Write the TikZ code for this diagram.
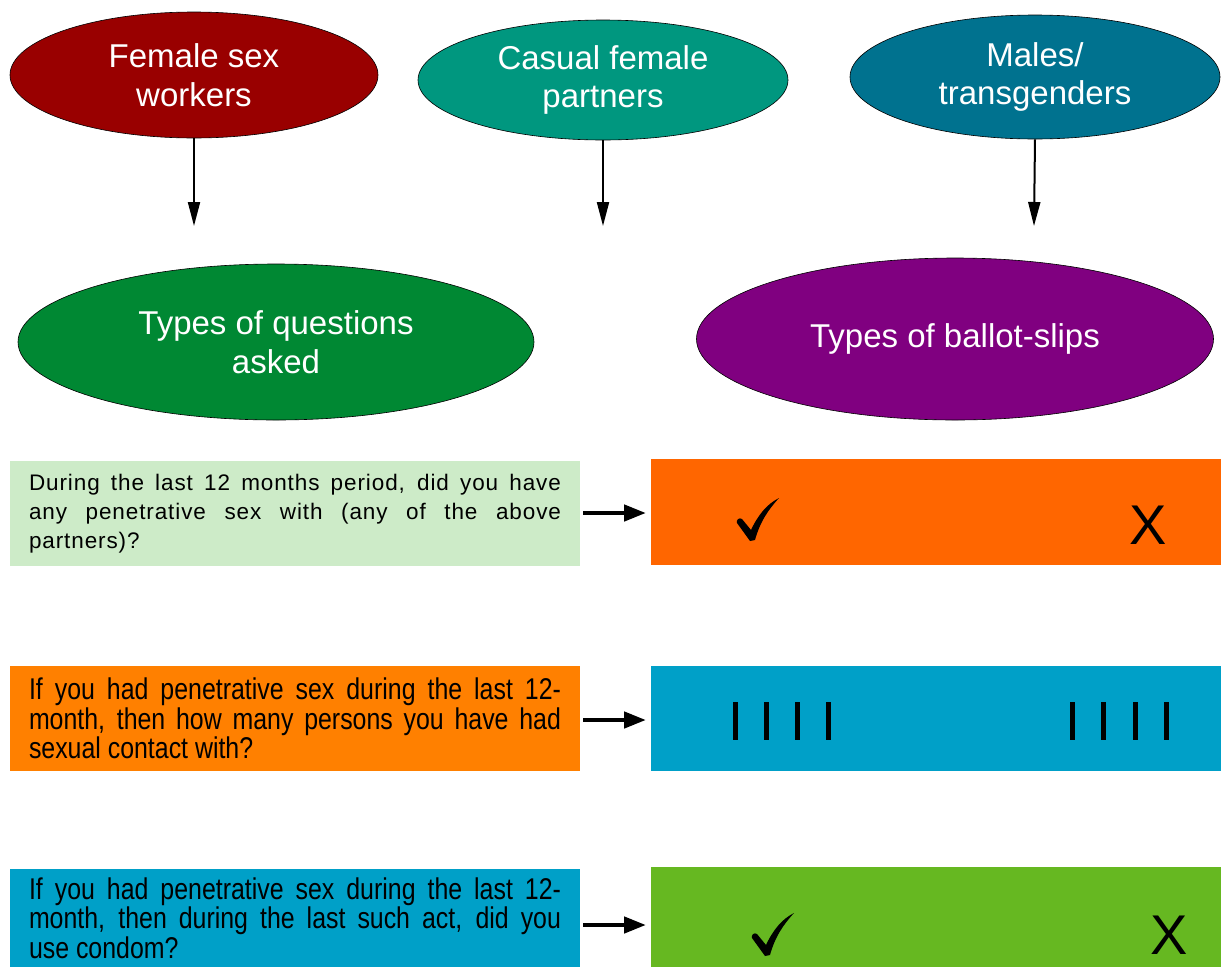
\documentclass[tikz,border=0pt]{standalone}
\usepackage{fontspec}
\setmainfont{Liberation Sans}
\newfontfamily\condfont[FakeStretch=0.83]{Liberation Sans}
\newfontfamily\widefont[LetterSpace=4]{Liberation Sans}
\newcommand\nohyphs{\hyphenpenalty=10000\relax}
\usetikzlibrary{shapes.geometric,arrows.meta}
\definecolor{cRed}{HTML}{990000}
\definecolor{cTeal}{HTML}{00977F}
\definecolor{cPetrol}{HTML}{00728F}
\definecolor{cGreen}{HTML}{008833}
\definecolor{cPurple}{HTML}{800080}
\definecolor{cLightGreen}{HTML}{CDEBC8}
\definecolor{cOrangeA}{HTML}{FF6600}
\definecolor{cOrangeB}{HTML}{FF8000}
\definecolor{cBlue}{HTML}{00A0C8}
\definecolor{cLime}{HTML}{66B821}
\tikzset{
  ell/.style={ellipse, draw=black, line width=0.6pt, inner sep=0pt, text=white,
    font=\fontsize{33}{38.5}\selectfont, align=center},
  qbox/.style={rectangle, inner sep=0pt, minimum width=570pt, minimum height=105pt},
  qtext/.style={text width=532pt, align=justify, font=\condfont\fontsize{30}{29.5}\selectfont\nohyphs, inner sep=0pt},
  qtextwide/.style={text width=532pt, align=justify, font=\widefont\fontsize{22.5}{29}\selectfont\nohyphs, inner sep=0pt},
  bbox/.style={rectangle, inner sep=0pt, minimum width=570pt, minimum height=105pt},
  thinarrow/.style={line width=2pt, -{Triangle[length=24pt,width=12pt]}},
  thickarrow/.style={line width=4.5pt, -{Triangle[length=22pt,width=16pt]}},
  tally/.style={line width=5pt},
  cross/.style={font=\fontsize{56}{56}\selectfont, inner sep=0pt},
  tickmark/.pic={
    \fill (-2,1) -- (-15,-17) .. controls (-16,-20) and (-13,-23) .. (-10,-21)
      -- (-1,-10) .. controls (6,-25) and (15,-36) .. (27,-42)
      .. controls (16,-30) and (8,-18) .. (3,0) -- cycle;
  }
}
\begin{document}
\begin{tikzpicture}[x=1pt,y=-1pt]
\useasboundingbox (0,0) rectangle (1227,967);
% top ellipses
\node[ell, fill=cRed, minimum width=368pt, minimum height=126pt] (fsw) at (194,75) {Female sex\\workers};
\node[ell, fill=cTeal, minimum width=370pt, minimum height=120pt] (cfp) at (603,80) {Casual female\\partners};
\node[ell, fill=cPetrol, minimum width=370pt, minimum height=124pt] (mt) at (1035,77) {Males/\\transgenders};
\coordinate (e1) at (194,226);
\coordinate (e2) at (603,226);
\coordinate (e3) at (1034,226);
\draw[thinarrow] (fsw.south) -- (e1);
\draw[thinarrow] (cfp.south) -- (e2);
\draw[thinarrow] (mt.south) -- (e3);
% middle ellipses
\node[ell, fill=cGreen, minimum width=516pt, minimum height=156pt] (tq) at (276,342) {Types of questions\\asked};
\node[ell, fill=cPurple, minimum width=517pt, minimum height=162pt] (tb) at (955,339) {Types of ballot-slips};
% question boxes
\node[qbox, fill=cLightGreen] (q1) at (295,513.5) {};
\node[qtextwide] (q1t) at (q1.center) {During the last 12 months period, did you have\linebreak any penetrative sex with (any of the above\linebreak partners)?};
\node[qbox, fill=cOrangeB] (q2) at (295,718.5) {};
\node[qtext] (q2t) at (q2.center) {If you had penetrative sex during the last 12-month, then how many persons you have had\linebreak sexual contact with?};
\node[qbox, fill=cBlue, minimum height=98pt] (q3) at (295,918) {};
\node[qtext] (q3t) at (q3.center) {If you had penetrative sex during the last 12-month, then during the last such act, did you\linebreak use condom?};
% ballot boxes
\node[bbox, fill=cOrangeA, minimum height=106pt] (b1) at (936,512) {};
\node[bbox, fill=cBlue] (b2) at (936,718.5) {};
\node[bbox, fill=cLime, minimum height=100pt] (b3) at (936,917) {};
% arrows
\coordinate (a1s) at (583,513);
\coordinate (a1e) at (646,513);
\coordinate (a2s) at (583,720);
\coordinate (a2e) at (646,720);
\coordinate (a3s) at (583,925);
\coordinate (a3e) at (646,925);
\draw[thickarrow] (a1s) -- (a1e);
\draw[thickarrow] (a2s) -- (a2e);
\draw[thickarrow] (a3s) -- (a3e);
% ballot contents
\pic at (752,540) {tickmark};
\node[cross] (x1) at (1148,525) {X};
\pic at (767,955) {tickmark};
\node[cross] (x2) at (1169,935) {X};
\foreach \xx [count=\i] in {735,766,797,828,1072,1103,1135,1166}{
  \coordinate (ta\i) at (\xx,702);
  \coordinate (tb\i) at (\xx,740);
  \draw[tally] (ta\i) -- (tb\i);
}
\end{tikzpicture}
\end{document}
